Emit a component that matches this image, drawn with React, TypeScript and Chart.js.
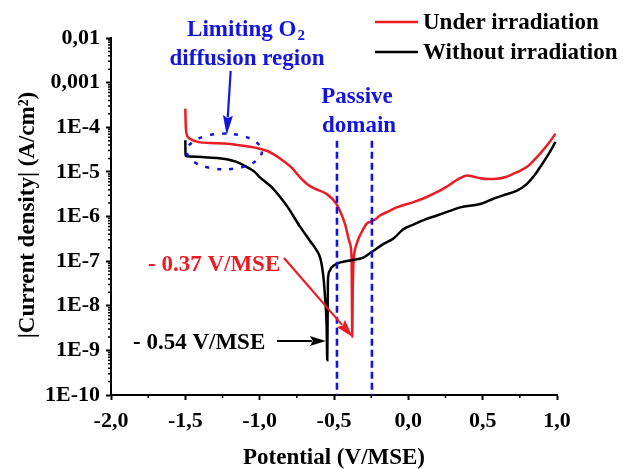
import React, { useEffect, useRef } from 'react';
import { Chart, registerables } from 'chart.js';

Chart.register(...registerables);

// ---- Data ----
const xTickValues = [-2, -1.5, -1, -0.5, 0, 0.5, 1];
const xTickLabels = ['-2,0', '-1,5', '-1,0', '-0,5', '0,0', '0,5', '1,0'];
const yTickValues = [1e-10, 1e-9, 1e-8, 1e-7, 1e-6, 1e-5, 1e-4, 1e-3, 1e-2];
const yTickLabels = ['1E-10', '1E-9', '1E-8', '1E-7', '1E-6', '1E-5', '1E-4', '0,001', '0,01'];

const seriesNames = ['Under irradiation', 'Without irradiation'];

const underX = [-1.5, -1.498, -1.494, -1.472, -1.416, -1.3, -1.236, -1.15, -1.056, -1.0, -0.944, -0.9, -0.854, -0.78, -0.73, -0.68, -0.629, -0.55, -0.483, -0.427, -0.393, -0.382, -0.377, -0.374, -0.37, -0.362, -0.35, -0.33, -0.314, -0.28, -0.258, -0.225, -0.191, -0.123, -0.078, 0.034, 0.12, 0.191, 0.25, 0.304, 0.35, 0.394, 0.44, 0.483, 0.54, 0.596, 0.66, 0.708, 0.76, 0.798, 0.85, 0.888, 0.94, 0.99];
const underY = [2.6e-4, 1.3e-4, 7.8e-5, 5.6e-5, 4.7e-5, 4.4e-5, 4.3e-5, 4.0e-5, 3.6e-5, 3.3e-5, 2.9e-5, 2.4e-5, 1.9e-5, 1.2e-5, 7.6e-6, 5.3e-6, 4.2e-6, 3.2e-6, 1.9e-6, 6.9e-7, 2.5e-7, 1.2e-7, 2.0e-9, 2.0e-8, 8.0e-8, 1.6e-7, 2.3e-7, 3.5e-7, 4.5e-7, 6.9e-7, 7.6e-7, 8.5e-7, 1.05e-6, 1.35e-6, 1.6e-6, 2.1e-6, 2.7e-6, 3.5e-6, 4.5e-6, 5.9e-6, 7.3e-6, 8.3e-6, 7.8e-6, 7.2e-6, 6.9e-6, 7.0e-6, 7.8e-6, 9.1e-6, 1.1e-5, 1.3e-5, 1.9e-5, 2.6e-5, 4.2e-5, 7.2e-5];

const withoutX = [-1.5, -1.499, -1.472, -1.349, -1.214, -1.16, -1.123, -1.07, -1.034, -1.0, -0.921, -0.865, -0.81, -0.73, -0.66, -0.62, -0.59, -0.57, -0.56, -0.55, -0.545, -0.541, -0.53, -0.517, -0.483, -0.393, -0.303, -0.247, -0.169, -0.1, -0.034, 0.034, 0.11, 0.191, 0.27, 0.349, 0.483, 0.56, 0.641, 0.731, 0.798, 0.85, 0.888, 0.94, 0.99];
const withoutY = [5.1e-5, 2.3e-5, 2.2e-5, 2.1e-5, 1.9e-5, 1.7e-5, 1.5e-5, 1.2e-5, 1.0e-5, 7.6e-6, 4.6e-6, 2.8e-6, 1.6e-6, 6.0e-7, 2.8e-7, 1.8e-7, 1.1e-7, 4.0e-8, 1.5e-8, 4.0e-9, 6e-10, 3.6e-8, 6e-8, 7.2e-8, 8.7e-8, 1.03e-7, 1.2e-7, 1.6e-7, 2.4e-7, 3.2e-7, 5.2e-7, 6.6e-7, 8.5e-7, 1.05e-6, 1.3e-6, 1.6e-6, 1.9e-6, 2.4e-6, 3.0e-6, 3.8e-6, 5.4e-6, 8.5e-6, 1.3e-5, 2.4e-5, 4.7e-5];

const passiveBounds = [-0.48, -0.245];
const ecorrRed = -0.375;
const ecorrBlack = -0.555;

// ---- Styles ----
const RED = '#ec1c24';
const BLACK = '#000000';
const BLUE = '#1414e0';
const FONT = '"Liberation Serif", "Times New Roman", serif';

function text(ctx: CanvasRenderingContext2D, s: string, x: number, y: number, size: number, color: string, align: CanvasTextAlign = 'left') {
  ctx.font = `bold ${size}px ${FONT}`;
  ctx.fillStyle = color;
  ctx.textAlign = align;
  ctx.textBaseline = 'alphabetic';
  ctx.fillText(s, x, y);
}

function arrow(ctx: CanvasRenderingContext2D, x1: number, y1: number, x2: number, y2: number, color: string, lw: number, hl: number, hw: number) {
  const a = Math.atan2(y2 - y1, x2 - x1);
  const c = Math.cos(a), s = Math.sin(a);
  const bx = x2 - hl * c, by = y2 - hl * s;
  ctx.strokeStyle = color;
  ctx.fillStyle = color;
  ctx.lineWidth = lw;
  ctx.setLineDash([]);
  ctx.beginPath();
  ctx.moveTo(x1, y1);
  ctx.lineTo(bx + 2 * c, by + 2 * s);
  ctx.stroke();
  ctx.beginPath();
  ctx.moveTo(x2, y2);
  ctx.lineTo(bx - hw * s, by + hw * c);
  ctx.lineTo(bx + 3 * c, by + 3 * s);
  ctx.lineTo(bx + hw * s, by - hw * c);
  ctx.closePath();
  ctx.fill();
}

const overlayPlugin = {
  id: 'overlay',
  afterDraw(chart: any) {
    const ctx: CanvasRenderingContext2D = chart.ctx;
    const xs = chart.scales.x;
    const ys = chart.scales.y;
    const area = chart.chartArea;
    ctx.save();

    // minor ticks
    ctx.strokeStyle = '#000';
    ctx.lineWidth = 1.5;
    ctx.setLineDash([]);
    ctx.beginPath();
    for (let i = 0; i < xTickValues.length - 1; i++) {
      const v = (xTickValues[i] + xTickValues[i + 1]) / 2;
      const p = xs.getPixelForValue(v);
      ctx.moveTo(p, area.bottom);
      ctx.lineTo(p, area.bottom + 3);
    }
    for (let i = 0; i < yTickValues.length - 1; i++) {
      for (let m = 2; m <= 9; m++) {
        const p = ys.getPixelForValue(yTickValues[i] * m);
        ctx.moveTo(area.left, p);
        ctx.lineTo(area.left - 3, p);
      }
    }
    ctx.stroke();

    // passive domain dashed lines
    ctx.strokeStyle = BLUE;
    ctx.lineWidth = 2.6;
    ctx.setLineDash([7, 4]);
    ctx.beginPath();
    for (const b of passiveBounds) {
      const p = xs.getPixelForValue(b);
      ctx.moveTo(p, ys.getPixelForValue(5e-5));
      ctx.lineTo(p, area.bottom);
    }
    ctx.stroke();

    // dotted ellipse (limiting O2 region)
    const ex1 = xs.getPixelForValue(-1.49), ex2 = xs.getPixelForValue(-0.985);
    const ey1 = ys.getPixelForValue(7.2e-5), ey2 = ys.getPixelForValue(1.14e-5);
    ctx.lineWidth = 2.5;
    ctx.setLineDash([4, 8]);
    ctx.beginPath();
    ctx.ellipse((ex1 + ex2) / 2, (ey1 + ey2) / 2, (ex2 - ex1) / 2, (ey2 - ey1) / 2, 0, 0, Math.PI * 2);
    ctx.stroke();
    ctx.setLineDash([]);

    // blue texts
    ctx.font = `bold 23px ${FONT}`;
    const w1 = ctx.measureText('Limiting O').width;
    ctx.font = `bold 15px ${FONT}`;
    const w2 = ctx.measureText('2').width;
    const lx = 246 - (w1 + w2 + 1) / 2;
    text(ctx, 'Limiting O', lx, 36, 23, BLUE);
    text(ctx, '2', lx + w1 + 1, 40, 15, BLUE);
    text(ctx, 'diffusion region', 247, 65, 23, BLUE, 'center');
    arrow(ctx, xs.getPixelForValue(-1.195), 71, xs.getPixelForValue(-1.222), ys.getPixelForValue(6.6e-5), BLUE, 2.2, 20, 5);

    text(ctx, 'Passive', 357, 103, 23, BLUE, 'center');
    text(ctx, 'domain', 359, 132, 23, BLUE, 'center');

    // Ecorr labels
    text(ctx, '- 0.37 V/MSE', 148, 271, 23, RED, 'left');
    arrow(ctx, 284, 258, xs.getPixelForValue(ecorrRed), ys.getPixelForValue(2.0e-9), RED, 2.2, 18, 5.5);
    text(ctx, '- 0.54 V/MSE', 133, 349, 23, BLACK, 'left');
    arrow(ctx, 277, 341, xs.getPixelForValue(ecorrBlack), 341, BLACK, 2.2, 16, 5);

    // legend
    const legColors = [RED, BLACK];
    const legY = [22, 52];
    const legBase = [29, 59];
    for (let i = 0; i < seriesNames.length; i++) {
      ctx.strokeStyle = legColors[i];
      ctx.lineWidth = 2.6;
      ctx.beginPath();
      ctx.moveTo(375, legY[i]);
      ctx.lineTo(418, legY[i]);
      ctx.stroke();
      text(ctx, seriesNames[i], 423, legBase[i], 23, BLACK, 'left');
    }

    // axis titles
    text(ctx, 'Potential (V/MSE)', 334, 464, 23, BLACK, 'center');
    ctx.save();
    ctx.translate(34, 215);
    ctx.rotate(-Math.PI / 2);
    text(ctx, '|Current density| (A/cm\u00B2)', 0, 0, 23, BLACK, 'center');
    ctx.restore();

    ctx.restore();
  },
};

export default function App() {
  const ref = useRef<HTMLCanvasElement | null>(null);
  useEffect(() => {
    if (!ref.current) return;
    const tickFont = { family: FONT, weight: 'bold' as const, size: 22 };
    const chart = new Chart(ref.current, {
      type: 'scatter',
      data: {
        datasets: [
          {
            label: seriesNames[1],
            data: withoutX.map((x, i) => ({ x, y: withoutY[i] })),
            showLine: true,
            borderColor: BLACK,
            borderWidth: 2.5,
            pointRadius: 0,
            cubicInterpolationMode: 'monotone',
            order: 0,
          },
          {
            label: seriesNames[0],
            data: underX.map((x, i) => ({ x, y: underY[i] })),
            showLine: true,
            borderColor: RED,
            borderWidth: 2.5,
            pointRadius: 0,
            cubicInterpolationMode: 'monotone',
            order: 1,
          },
        ],
      },
      options: {
        responsive: false,
        animation: false,
        devicePixelRatio: 1,
        events: [],
        layout: { padding: { left: 0, top: 38, right: 67, bottom: 0 } },
        plugins: { legend: { display: false }, tooltip: { enabled: false } },
        scales: {
          x: {
            type: 'linear',
            min: -2,
            max: 1,
            afterBuildTicks: (s: any) => { s.ticks = xTickValues.map((v) => ({ value: v })); },
            afterFit: (s: any) => { s.height = 74; },
            ticks: {
              callback: (_v: any, i: number) => xTickLabels[i],
              font: tickFont,
              color: '#000',
              padding: 8,
              maxRotation: 0,
              autoSkip: false,
            },
            grid: { display: true, drawOnChartArea: false, drawTicks: true, tickLength: 5, tickWidth: 2, tickColor: '#000' },
            border: { display: true, color: '#000', width: 2 },
          },
          y: {
            type: 'logarithmic',
            min: 1e-10,
            max: 1e-2,
            afterBuildTicks: (s: any) => { s.ticks = yTickValues.map((v) => ({ value: v })); },
            afterFit: (s: any) => { s.width = 111; },
            ticks: {
              callback: (_v: any, i: number) => yTickLabels[i],
              font: tickFont,
              color: '#000',
              padding: 6,
              autoSkip: false,
            },
            grid: { display: true, drawOnChartArea: false, drawTicks: true, tickLength: 5, tickWidth: 2, tickColor: '#000' },
            border: { display: true, color: '#000', width: 2 },
          },
        },
      },
      plugins: [overlayPlugin],
    });
    return () => chart.destroy();
  }, []);
  return (
    <div style={{ position: 'fixed', left: 0, top: 0, width: 624, height: 469, background: '#fff' }}>
      <canvas ref={ref} width={624} height={469} style={{ display: 'block' }} />
    </div>
  );
}
